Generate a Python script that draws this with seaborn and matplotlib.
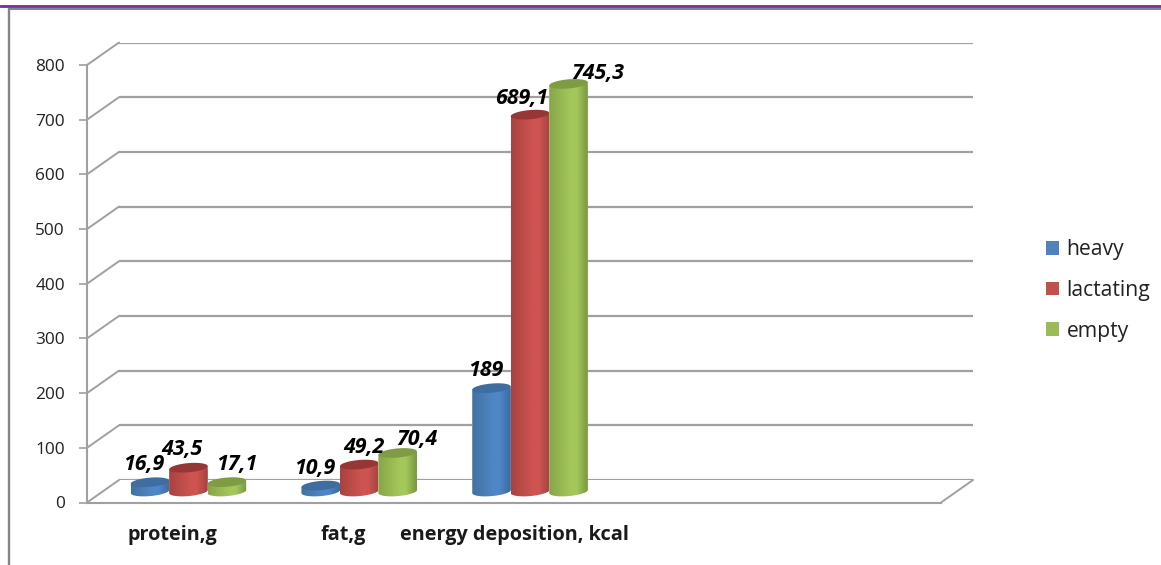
import numpy as np
import pandas as pd
import matplotlib
matplotlib.use("Agg")
import matplotlib.pyplot as plt
import seaborn as sns
from matplotlib.colors import LinearSegmentedColormap
from matplotlib.lines import Line2D
from matplotlib.patches import Patch, Polygon

# Nutrient deposition by physiological state
categories = ["protein,g", "fat,g", "energy deposition, kcal"]
spare_slots = ["", " "]  # the category axis keeps room for two unused groups
heavy = [16.9, 10.9, 189]
lactating = [43.5, 49.2, 689.1]
empty = [17.1, 70.4, 745.3]
series_names = ["heavy", "lactating", "empty"]
y_ticks = [0, 100, 200, 300, 400, 500, 600, 700, 800]

# Horizontal shift of each value label, and lift above its bar, in pixels
label_shift = [[-6, 18], [-7, 18], [10, 18],
               [-6, 17], [5, 17.5], [19, 13.5],
               [-6, 17.5], [-8, 16.5], [29.6, 10]]

W, H = 1161, 565
LINE = "#a0a0a0"
SHADES = {
    "heavy": ("#41719f", "#4f86c6", "#3a6a9f", "#3f6d9f"),
    "lactating": ("#a8423f", "#cd5451", "#a54340", "#963735"),
    "empty": ("#87a548", "#a4c75b", "#79983f", "#7f9c45"),
}
SWATCH = {"heavy": "#4f81bd", "lactating": "#c0504d", "empty": "#9bbb59"}

sns.set_theme(style="white")
plt.rcParams["font.family"] = ["Open Sans", "DejaVu Sans"]

fig = plt.figure(figsize=(W / 100, H / 100), dpi=100, facecolor="white")


def axes_from_pixels(left, right, top, bottom):
    return fig.add_axes([left / W, 1 - bottom / H, (right - left) / W, (bottom - top) / H])


FRONT = dict(left=87, right=941, top=65, bottom=502.5)
DEPTH_X, DEPTH_Y = 32, 22.5
PX_PER_UNIT = (FRONT["bottom"] - FRONT["top"]) / 800
PX_PER_SLOT = (FRONT["right"] - FRONT["left"]) / 5

# Back wall: horizontal gridlines
back = axes_from_pixels(FRONT["left"] + DEPTH_X, FRONT["right"] + DEPTH_X,
                        FRONT["top"] - DEPTH_Y, FRONT["bottom"] - DEPTH_Y)
back.set_ylim(0, 800)
back.set_yticks(y_ticks)
back.set_xticks([])
back.tick_params(left=False, labelleft=False)
back.grid(axis="y", color=LINE, lw=1.6)
back.set_axisbelow(True)
sns.despine(ax=back, left=True, bottom=True)

# Front plane: value axis, floor edge and category labels
front = axes_from_pixels(**FRONT)
front.patch.set_alpha(0)
front.set_xlim(-0.5, 4.5)
front.set_ylim(0, 800)
front.set_yticks(y_ticks)
front.set_xticks(range(5))
front.set_xticklabels(categories + spare_slots, fontweight="bold", fontsize=14.3, color="#1a1a1a")
front.tick_params(axis="x", length=0, pad=16.5)
front.tick_params(axis="y", length=5.8, width=1.2, color=LINE, labelsize=12.4,
                  labelcolor="#222222", pad=10, left=True)
sns.despine(ax=front, top=True, right=True)
for side in ("left", "bottom"):
    front.spines[side].set_color(LINE)
    front.spines[side].set_linewidth(1.5)

dx = DEPTH_X / PX_PER_SLOT
dy = DEPTH_Y / PX_PER_UNIT
for tick in y_ticks:
    front.plot([-0.5, -0.5 + dx], [tick, tick + dy], color=LINE, lw=1.4, clip_on=False)
front.plot([4.5, 4.5 + dx], [0, dy], color=LINE, lw=1.4, clip_on=False)

# Bars stand mid-way along the floor depth
BASE_PAD = 40
bars = axes_from_pixels(FRONT["left"] + 16, FRONT["right"] + 16,
                        FRONT["top"] - 11, FRONT["bottom"] - 11 + BASE_PAD * PX_PER_UNIT)
bars.patch.set_alpha(0)

table = pd.DataFrame({
    "category": categories * 3,
    "state": np.repeat(series_names, 3),
    "value": heavy + lactating + empty,
})
sns.barplot(data=table, x="category", y="value", hue="state",
            order=categories + spare_slots, hue_order=series_names,
            palette=SWATCH, width=0.676, gap=0, legend=False, errorbar=None,
            saturation=1, ax=bars)
bars.set_xlim(-0.5, 4.5)
bars.set_ylim(-BASE_PAD, 800)
bars.axis("off")

# Turn each flat bar into a shaded cylinder
SEMI_H = 4.6 / PX_PER_UNIT
TILT = 1.6 / PX_PER_UNIT
t = np.linspace(0, 2 * np.pi, 73)
z = 3
for name, container in zip(series_names, bars.containers):
    edge_l, mid, edge_r, cap = SHADES[name]
    cmap = LinearSegmentedColormap.from_list(
        name, [(0, edge_l), (0.55, mid), (0.72, mid), (1, edge_r)])
    for rect in container:
        x0, w, top = rect.get_x(), rect.get_width(), rect.get_height()
        cx = x0 + w / 2
        theta = np.linspace(np.pi, 2 * np.pi, 37)
        low_x = cx + w / 2 * np.cos(theta)
        low_y = SEMI_H * np.sin(theta) + TILT * np.cos(theta)
        outline = np.column_stack([
            np.r_[low_x, x0 + w, x0],
            np.r_[low_y, top + TILT, top - TILT],
        ])
        body = Polygon(outline, closed=True, transform=bars.transData)
        rect.set_clip_path(body)
        rect.set_zorder(z)
        shade = bars.imshow(np.linspace(0, 1, 64)[None, :], cmap=cmap, aspect="auto",
                            extent=(x0, x0 + w, -BASE_PAD, top + 2 * TILT),
                            origin="lower", zorder=z + 0.1, interpolation="bilinear")
        shade.set_clip_path(body)
        lid = np.column_stack([
            cx + w / 2 * np.cos(t),
            top + SEMI_H * np.sin(t) + TILT * np.cos(t),
        ])
        bars.add_patch(Polygon(lid, closed=True, facecolor=cap, edgecolor="none", zorder=z + 0.2))
        z += 1
bars.set_xlim(-0.5, 4.5)
bars.set_ylim(-BASE_PAD, 800)

# Value labels, with a decimal comma
all_rects = [r for group in zip(*bars.containers) for r in group]
for rect, (sx, sy) in zip(all_rects, label_shift):
    value = rect.get_height()
    text = f"{value:g}".replace(".", ",")
    bars.annotate(text, (rect.get_x() + rect.get_width() / 2, value),
                  xytext=(sx * 0.72, sy * 0.72), textcoords="offset points",
                  ha="center", va="center", fontsize=15.4, fontweight="bold",
                  fontstyle="italic", color="black", zorder=100)

fig.legend(handles=[Patch(facecolor=SWATCH[n], edgecolor="none") for n in series_names],
           labels=series_names, loc="center left", frameon=False,
           bbox_to_anchor=(1046 / W, 1 - 290.5 / H), fontsize=15.2,
           labelcolor="#222222", handlelength=0.62, handleheight=0.62,
           handletextpad=0.35, labelspacing=0.93, borderpad=0, borderaxespad=0)

# Slide frame: purple rule across the top, grey border at upper left
fig.add_artist(Line2D([0, 1], [1 - 5.5 / H] * 2, color="#7030a0", lw=2.0))
fig.add_artist(Line2D([8.5 / W, 1], [1 - 9 / H] * 2, color="#858585", lw=1.5))
fig.add_artist(Line2D([8.5 / W] * 2, [1 - 9 / H, 0], color="#858585", lw=1.7))

fig.savefig("out.png", dpi=100)
